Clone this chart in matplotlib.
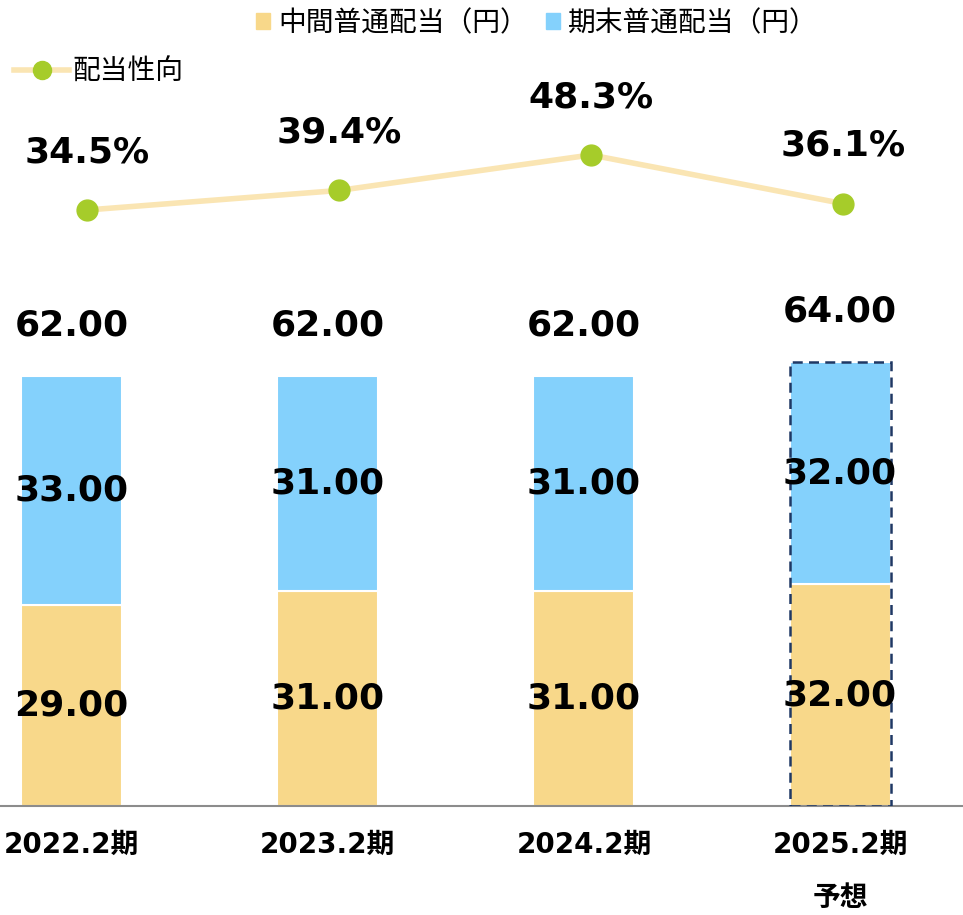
import numpy as np
import matplotlib
matplotlib.use("Agg")
import matplotlib.pyplot as plt
from matplotlib.lines import Line2D
from matplotlib.patches import Patch

plt.rcParams['font.family'] = ['DejaVu Sans', 'Noto Sans CJK JP']

periods = ['2022.2期', '2023.2期', '2024.2期', '2025.2期']
interim = [29.00, 31.00, 31.00, 32.00]
year_end = [33.00, 31.00, 31.00, 32.00]
payout = [34.5, 39.4, 48.3, 36.1]

c_interim = '#F8D88A'
c_end = '#84D1FC'
c_line = '#FAE5B3'
c_dot = '#A6CC2A'

W, H = 963, 915
fig = plt.figure(figsize=(W / 100, H / 100), dpi=100)
ax = fig.add_axes([0, 1 - 806 / H, 1, 806 / H])

x = np.arange(len(periods))
bw = 0.394
totals = [a + b for a, b in zip(interim, year_end)]

for i in x:
    ax.bar(i, interim[i], bw, color=c_interim, edgecolor='white', linewidth=1.5, zorder=2)
    ax.bar(i, year_end[i], bw, bottom=interim[i], color=c_end, edgecolor='white', linewidth=1.5, zorder=2)
    ax.text(i, interim[i] / 2, f'{interim[i]:.2f}', ha='center', va='center',
            fontsize=26, fontweight='bold', zorder=4)
    ax.text(i, interim[i] + year_end[i] / 2, f'{year_end[i]:.2f}', ha='center', va='center',
            fontsize=26, fontweight='bold', zorder=4)
    ax.text(i, totals[i] + 7.3, f'{totals[i]:.2f}', ha='center', va='center',
            fontsize=26, fontweight='bold', zorder=4)

# forecast bar gets a dashed outline
ax.bar(x[-1], totals[-1], bw, fill=False, edgecolor='#1F3864', linestyle=(0, (4, 2.5)),
       linewidth=1.8, zorder=3)

ax.set_xlim(-71.5 / 256.2, (W - 71.5) / 256.2)
ax.set_ylim(0, 806 / 6.935)
for s in ['top', 'right', 'left']:
    ax.spines[s].set_visible(False)
ax.spines['bottom'].set_color('#8C8C8C')
ax.spines['bottom'].set_linewidth(1.5)
ax.set_yticks([])
ax.set_xticks(x)
ax.set_xticklabels(periods, fontsize=20, fontweight='bold')
ax.tick_params(axis='x', length=0, pad=18)
ax.text(x[-1], -13.3, '予想', ha='center', va='center', fontsize=20, fontweight='bold',
        family=['Noto Sans CJK JP'])

# payout ratio on its own scale
ax2 = fig.add_axes(ax.get_position(), frameon=False)
px = 3.99
ax2.set_xlim(-87 / 252, (W - 87) / 252)
ax2.set_ylim(34.5 - (806 - 210) / px, 34.5 + 210 / px)
ax2.axis('off')
ax2.plot(x, payout, color=c_line, linewidth=4, zorder=2)
ax2.plot(x, payout, 'o', color=c_dot, markersize=15, zorder=3)
for i in x:
    ax2.text(i, payout[i] + 14.5, f'{payout[i]:.1f}%', ha='center', va='center',
             fontsize=26, fontweight='bold')

handles = [Patch(color=c_interim), Patch(color=c_end)]
fig.legend(handles, ['中間普通配当（円）', '期末普通配当（円）'], loc='center',
           bbox_to_anchor=(537 / W, 1 - 23 / H), ncol=2, frameon=False,
           prop={'family': 'Noto Sans CJK JP', 'size': 20},
           handlelength=0.5, handleheight=0.5, handletextpad=0.3, columnspacing=0.65)
fig.legend([Line2D([], [], color=c_line, linewidth=4, marker='o', markersize=13,
                   markerfacecolor=c_dot, markeredgecolor=c_dot)], ['配当性向'],
           loc='center left', bbox_to_anchor=(0.0, 1 - 72 / H), frameon=False,
           prop={'family': 'Noto Sans CJK JP', 'size': 20},
           handlelength=2.0, handletextpad=0.1, borderaxespad=0.2, borderpad=0.3)

fig.savefig('out.png', dpi=100)
